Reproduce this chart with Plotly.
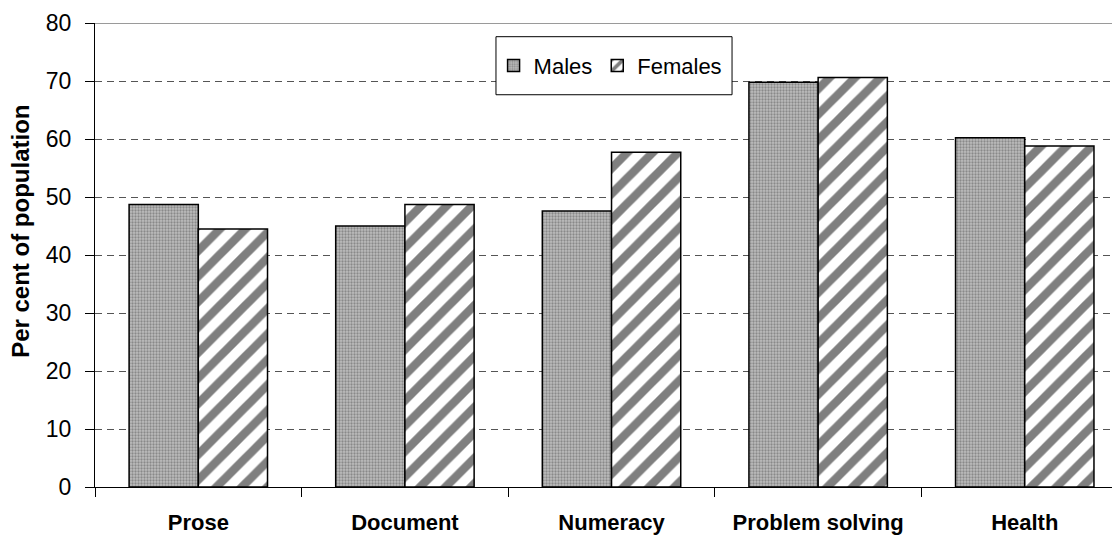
import plotly.graph_objects as go

categories = ["Prose", "Document", "Numeracy", "Problem solving", "Health"]
males = [48.7, 45.0, 47.6, 69.8, 60.2]
females = [44.5, 48.7, 57.7, 70.6, 58.8]
y_ticks = [0, 10, 20, 30, 40, 50, 60, 70, 80]

FONT = "Arial, Liberation Sans, sans-serif"

fig = go.Figure()
fig.add_trace(go.Bar(
    name="Males", x=categories, y=males,
    marker=dict(color="#a8a8a8", line=dict(color="black", width=1.5),
                pattern=dict(shape=".", fgcolor="#555555", bgcolor="#bdbdbd",
                             size=3, solidity=0.45)),
))
fig.add_trace(go.Bar(
    name="Females", x=categories, y=females,
    marker=dict(color="white", line=dict(color="black", width=1.5),
                pattern=dict(shape="/", fgcolor="black", bgcolor="white",
                             size=18, solidity=0.47)),
))

# top border line at 80
fig.add_shape(type="line", xref="paper", yref="y", x0=0, x1=1, y0=80, y1=80,
              line=dict(color="#9a9a9a", width=2), layer="above")
# legend box
fig.add_shape(type="rect", xref="paper", yref="paper",
              x0=0.3912, x1=0.6215, y0=0.8454, y1=0.9705,
              line=dict(color="black", width=1), fillcolor="white", layer="above")

fig.add_annotation(text="<b>Per cent of population</b>", xref="paper", yref="paper",
                   x=-0.0722, y=0.552, xanchor="center", yanchor="middle", textangle=-90,
                   showarrow=False, font=dict(size=24, family=FONT))

fig.update_layout(
    width=1112, height=532,
    margin=dict(l=87, r=0, t=15, b=53),
    paper_bgcolor="white", plot_bgcolor="white",
    font=dict(family=FONT, size=22, color="black"),
    barmode="group", bargap=0.33, bargroupgap=0,
    showlegend=True,
    legend=dict(orientation="h", x=0.503, y=0.908, xanchor="center", yanchor="middle",
                borderwidth=0, bgcolor="rgba(0,0,0,0)",
                font=dict(size=22), itemwidth=30),
    xaxis=dict(range=[-0.5, 4.461], tickson="boundaries", ticks="outside",
               ticklen=9, tickcolor="black", showline=True, linecolor="black",
               linewidth=1, showgrid=False, automargin=False, ticklabelstandoff=16,
               tickfont=dict(size=22, family=FONT, weight="bold")),
    yaxis=dict(range=[0, 80], tickvals=y_ticks, ticks="outside", ticklen=9,
               tickcolor="black", showline=True, linecolor="black", linewidth=1,
               showgrid=True, gridcolor="#555555", griddash="7px,5px", gridwidth=1,
               zeroline=False, tickfont=dict(size=23), automargin=False,
               ticklabelstandoff=9),
)

fig.write_html("out.html")
